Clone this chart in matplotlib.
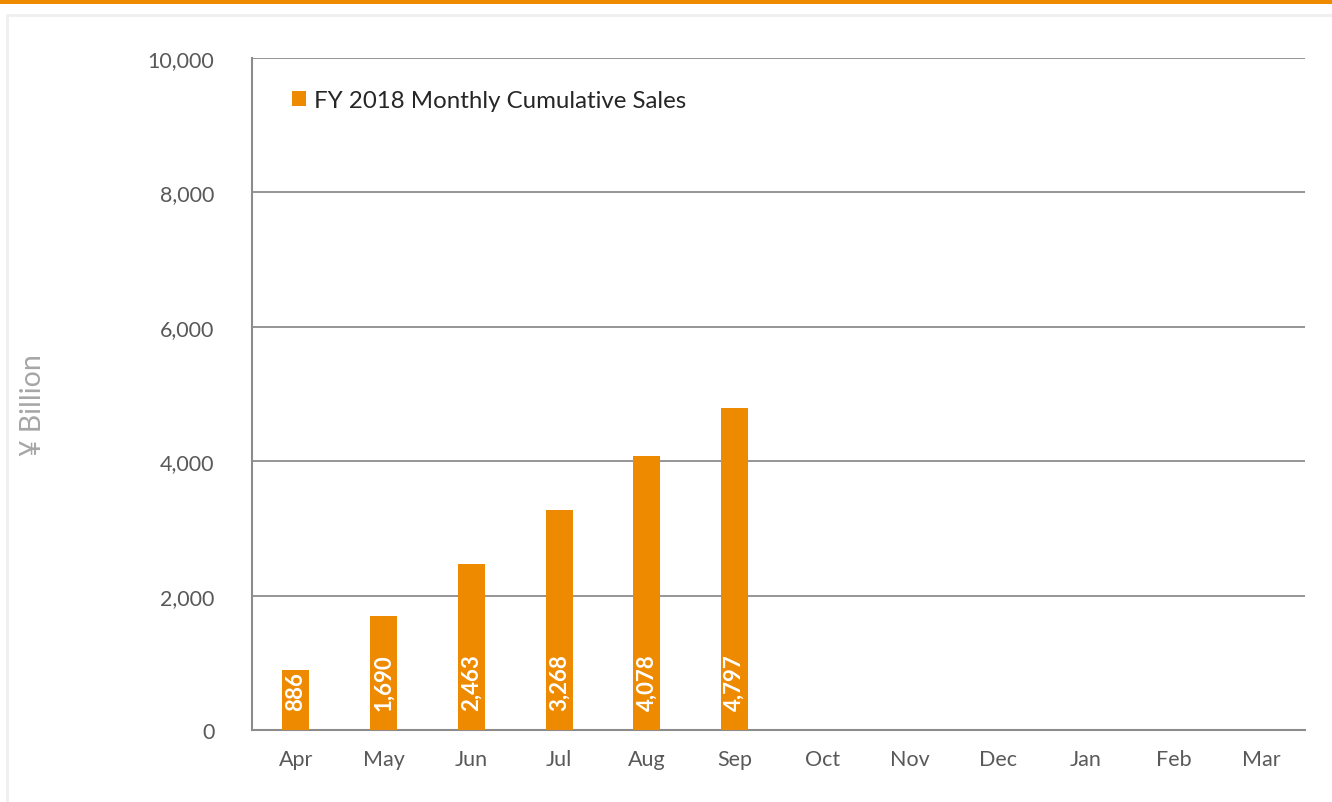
import matplotlib.pyplot as plt
from matplotlib.patches import Rectangle
from matplotlib.ticker import FuncFormatter

months = ['Apr', 'May', 'Jun', 'Jul', 'Aug', 'Sep', 'Oct', 'Nov', 'Dec', 'Jan', 'Feb', 'Mar']
sales = [886, 1690, 2463, 3268, 4078, 4797]
series_name = 'FY 2018 Monthly Cumulative Sales'

orange = '#EE8A00'
text_gray = '#595959'
grid_gray = '#8C8C8C'

plt.rcParams['font.family'] = ['Lato', 'DejaVu Sans']

W, H = 1332, 803
fig = plt.figure(figsize=(W / 100, H / 100), dpi=100)

# orange band at the very top and faint frame around the chart
fig.patches.append(Rectangle((0, 1 - 5 / H), 1, 5 / H, transform=fig.transFigure,
                             facecolor=orange, edgecolor='none'))
fig.patches.append(Rectangle((7 / W, -0.05), 1.1, 1 - 16 / H + 0.05, transform=fig.transFigure,
                             facecolor='none', edgecolor='#EFEFEF', linewidth=2))

ax = fig.add_axes([252 / W, 1 - 731 / H, (1305 - 252) / W, (731 - 59) / H])

x = list(range(len(sales)))
bars = ax.bar(x, sales, width=0.31, color=orange, label=series_name, zorder=3)

for xi, v in zip(x, sales):
    ax.text(xi, 300, f'{v:,}', rotation=90, ha='center', va='bottom',
            color='white', fontsize=16, fontweight='bold', zorder=4)

ax.set_xlim(-0.5, len(months) - 0.5)
ax.set_ylim(0, 10000)
ax.set_xticks(range(len(months)))
ax.set_xticklabels(months)
ax.set_yticks(range(0, 10001, 2000))
ax.yaxis.set_major_formatter(FuncFormatter(lambda v, p: f'{int(v):,}'))
ax.tick_params(length=0, labelsize=15.5, labelcolor=text_gray)
ax.tick_params(axis='x', pad=14)
ax.tick_params(axis='y', pad=27)

ax.grid(axis='y', color=grid_gray, linewidth=1.3, zorder=0)
for s in ['top', 'right']:
    ax.spines[s].set_visible(False)
for s in ['left', 'bottom']:
    ax.spines[s].set_color(grid_gray)
    ax.spines[s].set_linewidth(1.5)

fig.text(33 / W, 1 - 405 / H, '¥ Billion', rotation=90, ha='center', va='center',
         fontsize=20.5, color='#A6A6A6')

ax.legend(loc='upper left', bbox_to_anchor=((292 - 252) / 1053, 1 - (91 - 59) / 672),
          frameon=False, fontsize=17.3, labelcolor='#262626', borderpad=0, borderaxespad=0,
          handlelength=0.6, handleheight=0.6, handletextpad=0.3)

plt.savefig('out.png', dpi=100)
